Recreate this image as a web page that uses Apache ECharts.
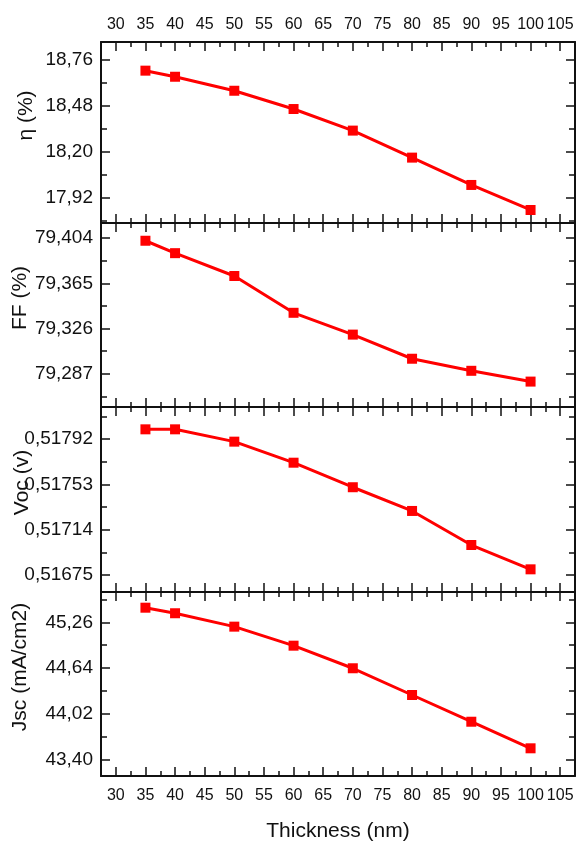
<!DOCTYPE html>
<html><head><meta charset="utf-8">
<script src="https://cdn.jsdelivr.net/npm/echarts@6/dist/echarts.min.js"></script>
<style>html,body{margin:0;padding:0;background:#fff}#c{width:579px;height:846px}</style>
</head><body><div id="c"></div>
<script>
// ---- data ----
const thickness = [35, 40, 50, 60, 70, 80, 90, 100];
const eta = [18.691, 18.654, 18.569, 18.458, 18.327, 18.163, 17.997, 17.845];
const ff  = [79.4017, 79.3910, 79.3713, 79.3396, 79.3208, 79.3000, 79.2896, 79.2803];
const voc = [0.518003, 0.518003, 0.517897, 0.517716, 0.517505, 0.517301, 0.517008, 0.516799];
const jsc = [45.457, 45.382, 45.201, 44.944, 44.639, 44.278, 43.917, 43.558];

// ---- ticks ----
const xTicks = [30, 35, 40, 45, 50, 55, 60, 65, 70, 75, 80, 85, 90, 95, 100, 105];
const xMinorTicks = [32.5, 37.5, 42.5, 47.5, 52.5, 57.5, 62.5, 67.5, 72.5, 77.5, 82.5, 87.5, 92.5, 97.5, 102.5];
const etaTicks = [17.92, 18.20, 18.48, 18.76];
const etaMinor = [17.78, 18.06, 18.34, 18.62];
const ffTicks = [79.287, 79.326, 79.365, 79.404];
const ffMinor = [79.2675, 79.3065, 79.3455, 79.3845];
const vocTicks = [0.51675, 0.51714, 0.51753, 0.51792];
const vocMinor = [0.516945, 0.517335, 0.517725, 0.518115];
const jscTicks = [43.40, 44.02, 44.64, 45.26];
const jscMinor = [43.71, 44.33, 44.95, 45.57];

const yNames = ['η (%)', 'FF (%)', 'Voc (v)', 'Jsc (mA/cm2)'];
const xName = 'Thickness (nm)';

// ---- layout / style ----
const FONT = '"Liberation Sans", Arial, sans-serif';
const INK = '#111';
const panels = [
  { data: eta, ticks: etaTicks, minor: etaMinor, min: 17.766, max: 18.865, dec: 2, top: 42, height: 181, gap: 64 },
  { data: ff,  ticks: ffTicks,  minor: ffMinor,  min: 79.2584, max: 79.417, dec: 3, top: 223, height: 184, gap: 70 },
  { data: voc, ticks: vocTicks, minor: vocMinor, min: 0.516604, max: 0.518195, dec: 5, top: 407, height: 185, gap: 68 },
  { data: jsc, ticks: jscTicks, minor: jscMinor, min: 43.184, max: 45.669, dec: 2, top: 592, height: 184, gap: 70 }
];

const grids = [], xAxes = [], yAxes = [], series = [];

function xAx(gi, pos, vals, len, showLine, showLabel, name) {
  const a = {
    type: 'value', gridIndex: gi, position: pos, min: 27.5, max: 107.5,
    axisLine: { show: showLine, onZero: false, lineStyle: { color: INK, width: 2 } },
    axisTick: { show: true, inside: true, customValues: vals, length: len, lineStyle: { color: INK, width: 1.5 } },
    axisLabel: { show: showLabel, customValues: vals, margin: pos === 'bottom' ? 12 : 9, fontSize: 16, color: INK, fontFamily: FONT },
    splitLine: { show: false }
  };
  if (name) {
    a.name = name; a.nameLocation = 'middle'; a.nameGap = 45; a.nameMoveOverlap = false;
    a.nameTextStyle = { fontSize: 21, color: INK, fontFamily: FONT };
  }
  return a;
}
function yAx(gi, p, pos, vals, len, showLine, showLabel, name) {
  const a = {
    type: 'value', gridIndex: gi, position: pos, min: p.min, max: p.max,
    axisLine: { show: showLine, onZero: false, lineStyle: { color: INK, width: 2 } },
    axisTick: { show: true, inside: true, customValues: vals, length: len, lineStyle: { color: INK, width: 1.5 } },
    axisLabel: { show: showLabel, customValues: vals, margin: 8, fontSize: 19, color: INK, fontFamily: FONT,
      formatter: v => v.toFixed(p.dec).replace('.', ',') },
    splitLine: { show: false }
  };
  if (name) {
    a.name = name; a.nameLocation = 'middle'; a.nameGap = p.gap; a.nameMoveOverlap = false;
    a.nameTextStyle = { fontSize: 21, color: INK, fontFamily: FONT, padding: [0, 0, 0, 34] };
  }
  return a;
}

panels.forEach((p, i) => {
  grids.push({ left: 101, width: 474, top: p.top, height: p.height, containLabel: false, outerBoundsMode: 'none' });
  const xBottom = xAxes.length;
  xAxes.push(xAx(i, 'bottom', xTicks, 9, true, i === 3, i === 3 ? xName : null));
  xAxes.push(xAx(i, 'bottom', xMinorTicks, 5, false, false, null));
  xAxes.push(xAx(i, 'top', xTicks, 9, true, i === 0, null));
  xAxes.push(xAx(i, 'top', xMinorTicks, 5, false, false, null));
  const yLeft = yAxes.length;
  yAxes.push(yAx(i, p, 'left', p.ticks, 9, true, true, yNames[i]));
  yAxes.push(yAx(i, p, 'left', p.minor, 6, false, false, null));
  yAxes.push(yAx(i, p, 'right', p.ticks, 9, true, false, null));
  yAxes.push(yAx(i, p, 'right', p.minor, 6, false, false, null));
  series.push({
    type: 'line', xAxisIndex: xBottom, yAxisIndex: yLeft,
    data: thickness.map((t, k) => [t, p.data[k]]),
    symbol: 'rect', symbolSize: 10, showSymbol: true,
    lineStyle: { color: '#ff0000', width: 3 },
    itemStyle: { color: '#ff0000' },
    animation: false
  });
});

const chart = echarts.init(document.getElementById('c'), null, { renderer: 'canvas' });
chart.setOption({
  backgroundColor: '#fff',
  animation: false,
  grid: grids, xAxis: xAxes, yAxis: yAxes, series: series
});
</script>
</body></html>
